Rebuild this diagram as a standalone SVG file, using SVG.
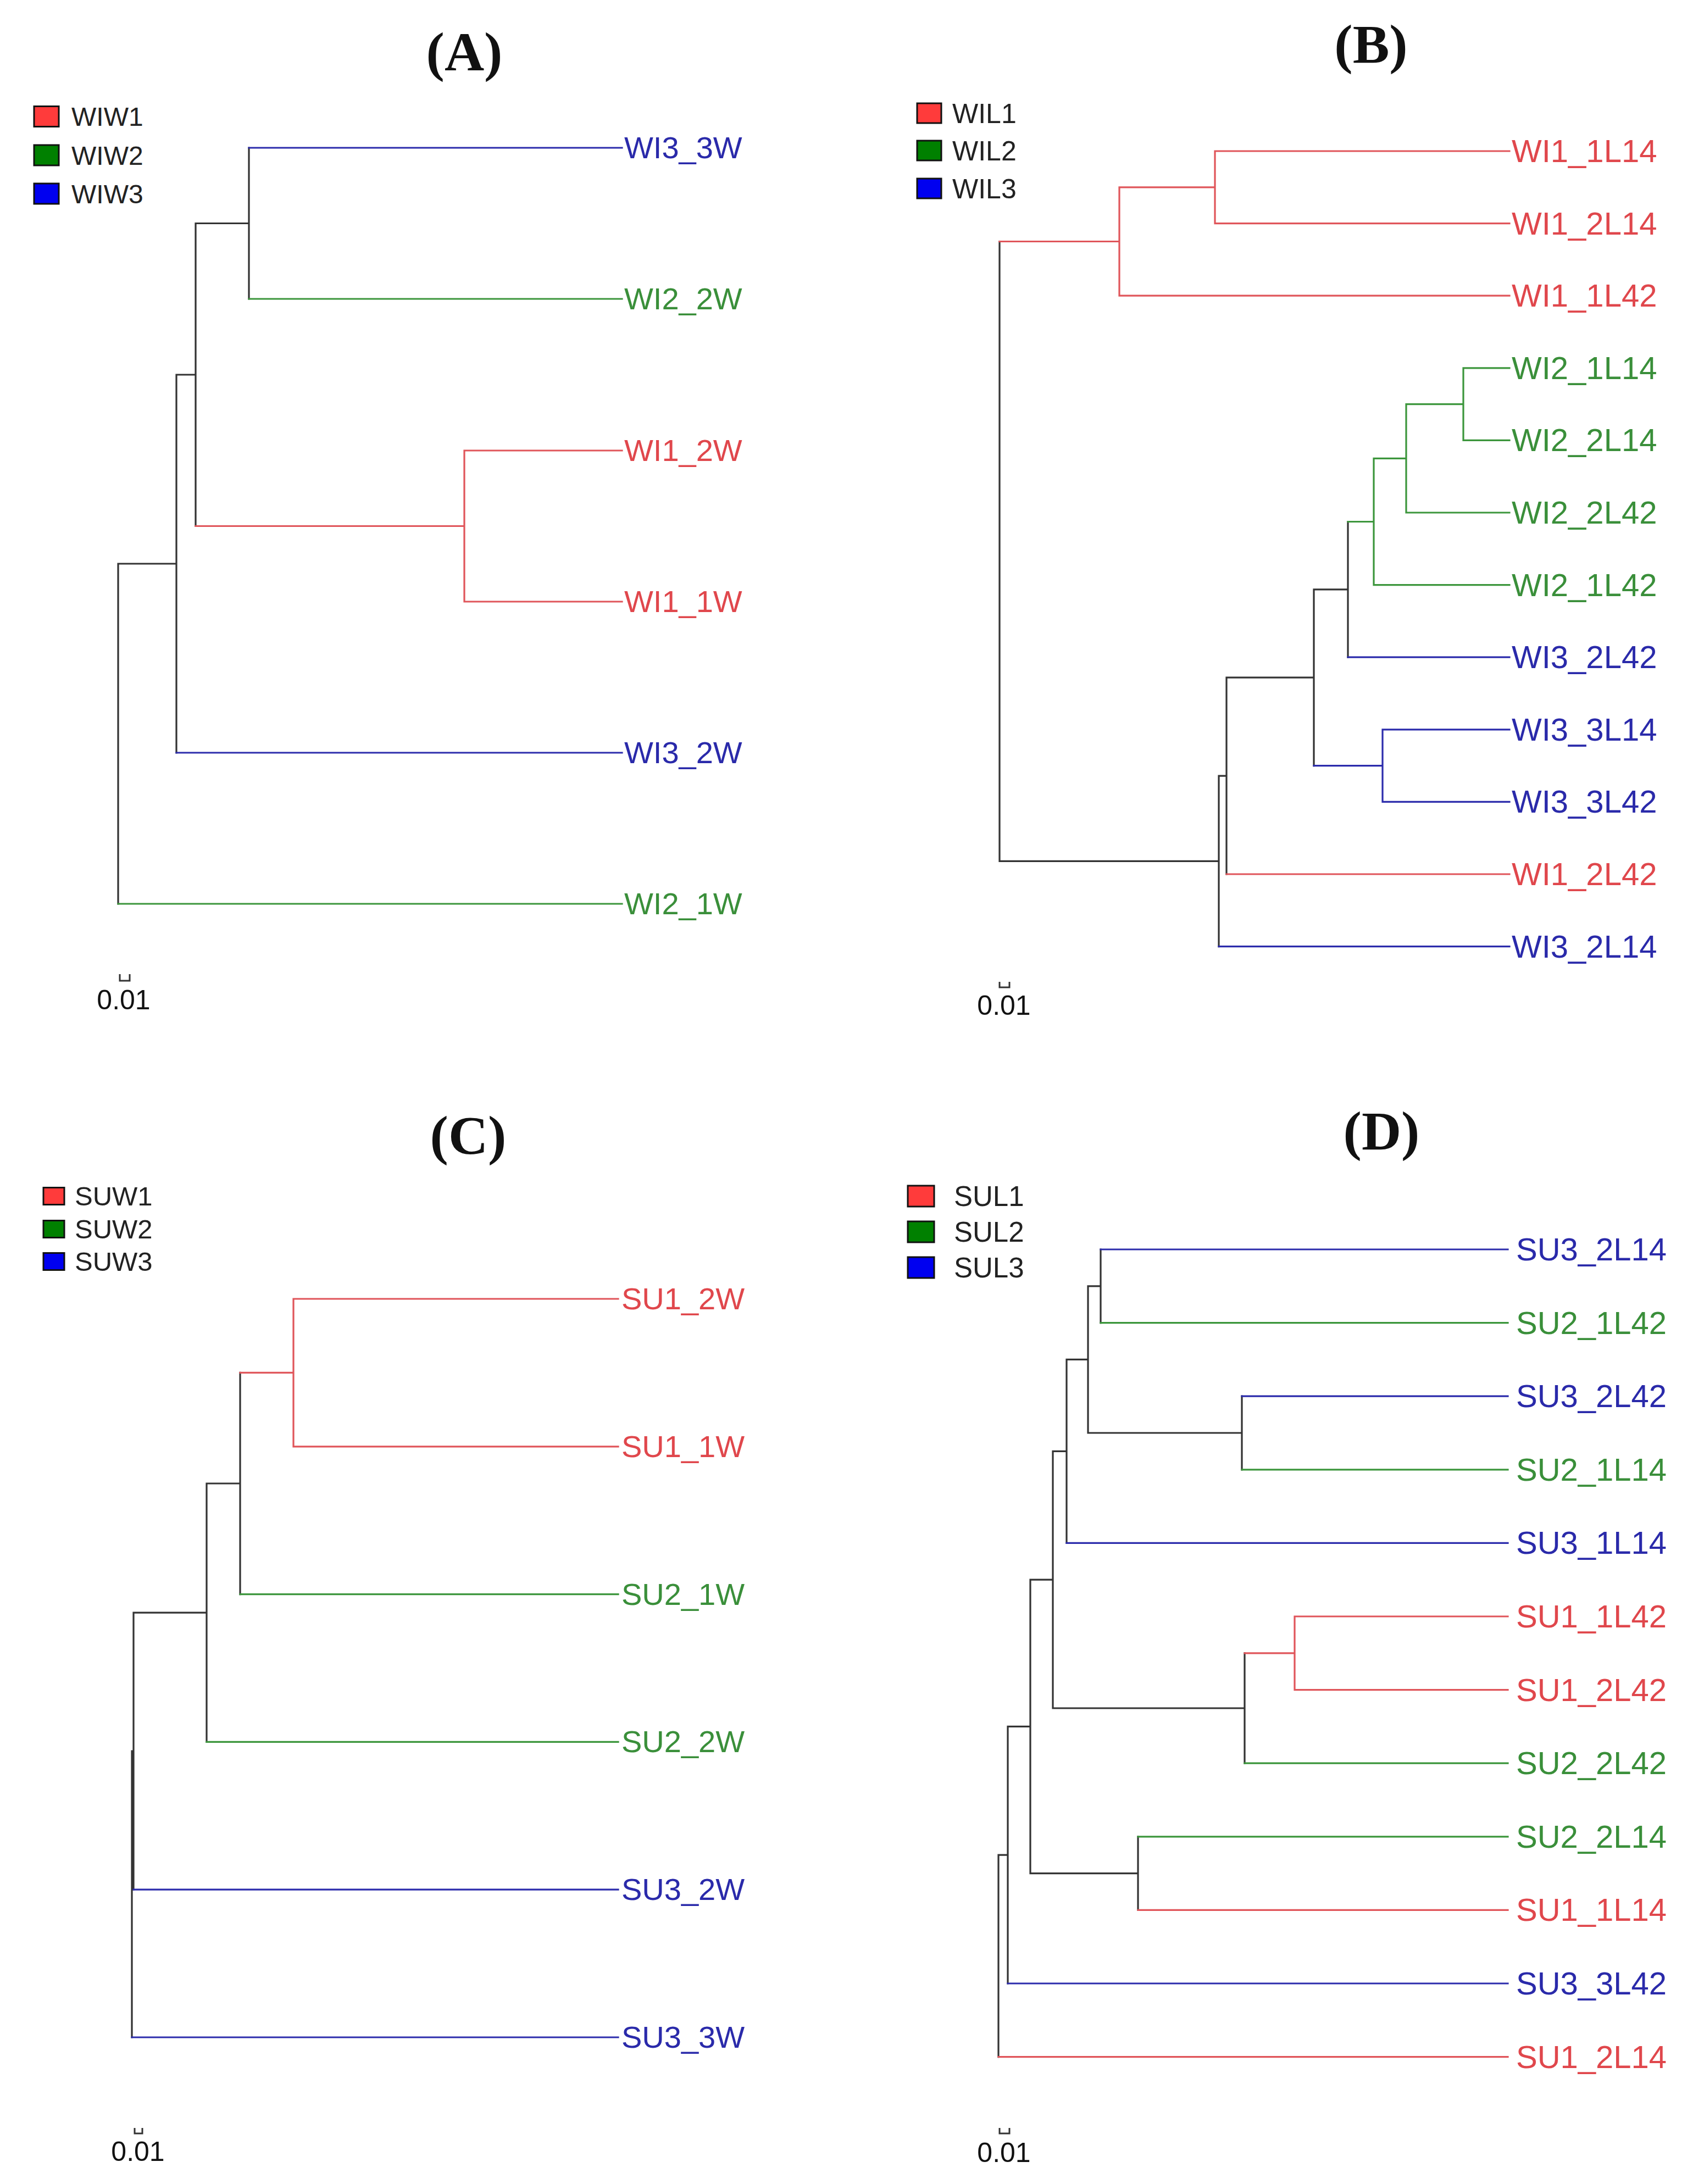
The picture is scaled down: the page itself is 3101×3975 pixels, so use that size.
<svg xmlns="http://www.w3.org/2000/svg" width="3101" height="3975" viewBox="0 0 3101 3975">
<style>
  .bg{fill:#ffffff}
  .e{fill:none;stroke-width:3.2;stroke-linecap:square}
  .k{stroke:#333333}
  .r{stroke:#e0555a}
  .g{stroke:#3c963c}
  .b{stroke:#2c2cac}
  .lbl{font-family:"Liberation Sans",Arial,sans-serif;font-size:56px}
  .lbl2{font-family:"Liberation Sans",Arial,sans-serif;font-size:58px}
  .tr{fill:#e0474c}
  .tg{fill:#3a8f3a}
  .tb{fill:#2a2aaa}
  .title{font-family:"Liberation Serif","Times New Roman",serif;font-size:100px;font-weight:bold;fill:#111;text-anchor:middle}
  .leg{font-family:"Liberation Sans",Arial,sans-serif;fill:#222}
  .sq{stroke:#111;stroke-width:3}
  .sqr{fill:#ff3b3b}
  .sqg{fill:#008000}
  .sqb{fill:#0000f0}
  .scale{font-family:"Liberation Sans",Arial,sans-serif;font-size:50px;fill:#111;text-anchor:middle}
  .bar{fill:none;stroke:#333;stroke-width:3}
</style>
<rect class="bg" x="0" y="0" width="3101" height="3975"/>

<!-- ================= Panel A ================= -->
<g id="panelA">
  <text class="title" x="845" y="128">(A)</text>
  <g id="legendA">
    <rect class="sq sqr" x="62" y="193.5" width="45" height="37"/>
    <text class="leg" x="130" y="229" font-size="48">WIW1</text>
    <rect class="sq sqg" x="62" y="264" width="45" height="37"/>
    <text class="leg" x="130" y="299.5" font-size="48">WIW2</text>
    <rect class="sq sqb" x="62" y="334" width="45" height="37"/>
    <text class="leg" x="130" y="369.5" font-size="48">WIW3</text>
  </g>
  <g id="edgesA">
    <path class="e k" d="M215,1026 V1645 M215,1026 H321 M321,682 V1370 M321,682 H356 M356,406.5 V957.5 M356,406.5 H453 M453,269 V544"/>
    <path class="e b" d="M453,269 H1132 M321,1370 H1132"/>
    <path class="e g" d="M453,544 H1132 M215,1645 H1132"/>
    <path class="e r" d="M356,957.5 H845 M845,820 V1095 M845,820 H1132 M845,1095 H1132"/>
  </g>
  <g id="A-WI3_3W"><text class="lbl tb" x="1136" y="288">WI3_3W</text></g>
  <g id="A-WI2_2W"><text class="lbl tg" x="1136" y="563">WI2_2W</text></g>
  <g id="A-WI1_2W"><text class="lbl tr" x="1136" y="839">WI1_2W</text></g>
  <g id="A-WI1_1W"><text class="lbl tr" x="1136" y="1114">WI1_1W</text></g>
  <g id="A-WI3_2W"><text class="lbl tb" x="1136" y="1389">WI3_2W</text></g>
  <g id="A-WI2_1W"><text class="lbl tg" x="1136" y="1664">WI2_1W</text></g>
  <g id="scaleA">
    <path class="bar" d="M218,1773 V1785 H236 V1773"/>
    <text class="scale" x="225" y="1837">0.01</text>
  </g>
</g>

<!-- ================= Panel B ================= -->
<g id="panelB">
  <text class="title" x="2495" y="114">(B)</text>
  <g id="legendB">
    <rect class="sq sqr" x="1669" y="188" width="44" height="36"/>
    <text class="leg" x="1733" y="224" font-size="50">WIL1</text>
    <rect class="sq sqg" x="1669" y="256" width="44" height="36"/>
    <text class="leg" x="1733" y="292" font-size="50">WIL2</text>
    <rect class="sq sqb" x="1669" y="325" width="44" height="36"/>
    <text class="leg" x="1733" y="361" font-size="50">WIL3</text>
  </g>
  <g id="edgesB">
    <path class="e k" d="M1819,439.5 V1567.4 M1819,1567.4 H2218 M2218,1412.1 V1722.6 M2218,1412.1 H2232 M2232,1233.2 V1591 M2232,1233.2 H2391 M2391,1072.8 V1393.6 M2391,1072.8 H2453 M2453,949.5 V1196.2"/>
    <path class="e r" d="M1819,439.5 H2037 M2037,340.8 V538.2 M2037,340.8 H2211 M2211,275 V406.6 M2211,275 H2747 M2211,406.6 H2747 M2037,538.2 H2747 M2232,1591 H2747"/>
    <path class="e g" d="M2453,949.5 H2500 M2500,834.3 V1064.6 M2500,834.3 H2559 M2559,735.6 V933 M2559,735.6 H2663 M2663,669.8 V801.4 M2663,669.8 H2747 M2663,801.4 H2747 M2559,933 H2747 M2500,1064.6 H2747"/>
    <path class="e b" d="M2453,1196.2 H2747 M2391,1393.6 H2516 M2516,1327.8 V1459.4 M2516,1327.8 H2747 M2516,1459.4 H2747 M2218,1722.6 H2747"/>
  </g>
  <g id="B-WI1_1L14"><text class="lbl2 tr" x="2751" y="295">WI1_1L14</text></g>
  <g id="B-WI1_2L14"><text class="lbl2 tr" x="2751" y="426.6">WI1_2L14</text></g>
  <g id="B-WI1_1L42"><text class="lbl2 tr" x="2751" y="558.2">WI1_1L42</text></g>
  <g id="B-WI2_1L14"><text class="lbl2 tg" x="2751" y="689.8">WI2_1L14</text></g>
  <g id="B-WI2_2L14"><text class="lbl2 tg" x="2751" y="821.4">WI2_2L14</text></g>
  <g id="B-WI2_2L42"><text class="lbl2 tg" x="2751" y="953">WI2_2L42</text></g>
  <g id="B-WI2_1L42"><text class="lbl2 tg" x="2751" y="1084.6">WI2_1L42</text></g>
  <g id="B-WI3_2L42"><text class="lbl2 tb" x="2751" y="1216.2">WI3_2L42</text></g>
  <g id="B-WI3_3L14"><text class="lbl2 tb" x="2751" y="1347.8">WI3_3L14</text></g>
  <g id="B-WI3_3L42"><text class="lbl2 tb" x="2751" y="1479.4">WI3_3L42</text></g>
  <g id="B-WI1_2L42"><text class="lbl2 tr" x="2751" y="1611">WI1_2L42</text></g>
  <g id="B-WI3_2L14"><text class="lbl2 tb" x="2751" y="1742.6">WI3_2L14</text></g>
  <g id="scaleB">
    <path class="bar" d="M1819,1787 V1797 H1837 V1787"/>
    <text class="scale" x="1827" y="1847">0.01</text>
  </g>
</g>

<!-- ================= Panel C ================= -->
<g id="panelC">
  <text class="title" x="852" y="2100">(C)</text>
  <g id="legendC">
    <rect class="sq sqr" x="79" y="2161.5" width="38" height="31"/>
    <text class="leg" x="136" y="2194" font-size="49">SUW1</text>
    <rect class="sq sqg" x="79" y="2221.5" width="38" height="31"/>
    <text class="leg" x="136" y="2254" font-size="49">SUW2</text>
    <rect class="sq sqb" x="79" y="2280.5" width="38" height="31"/>
    <text class="leg" x="136" y="2313" font-size="49">SUW3</text>
  </g>
  <g id="edgesC">
    <path class="e k" d="M240,3187.2 V3708 M240,3187.2 H243 M243,2935.2 V3439.2 M243,2935.2 H376 M376,2700 V3170.4 M376,2700 H437 M437,2498.4 V2901.6"/>
    <path class="e r" d="M437,2498.4 H534 M534,2364 V2632.8 M534,2364 H1125 M534,2632.8 H1125"/>
    <path class="e g" d="M437,2901.6 H1125 M376,3170.4 H1125"/>
    <path class="e b" d="M243,3439.2 H1125 M240,3708 H1125"/>
  </g>
  <g id="C-SU1_2W"><text class="lbl tr" x="1131" y="2383">SU1_2W</text></g>
  <g id="C-SU1_1W"><text class="lbl tr" x="1131" y="2651.8">SU1_1W</text></g>
  <g id="C-SU2_1W"><text class="lbl tg" x="1131" y="2920.6">SU2_1W</text></g>
  <g id="C-SU2_2W"><text class="lbl tg" x="1131" y="3189.4">SU2_2W</text></g>
  <g id="C-SU3_2W"><text class="lbl tb" x="1131" y="3458.2">SU3_2W</text></g>
  <g id="C-SU3_3W"><text class="lbl tb" x="1131" y="3727">SU3_3W</text></g>
  <g id="scaleC">
    <path class="bar" d="M245,3873 V3883 H259 V3873"/>
    <text class="scale" x="251" y="3933">0.01</text>
  </g>
</g>

<!-- ================= Panel D ================= -->
<g id="panelD">
  <text class="title" x="2514" y="2092">(D)</text>
  <g id="legendD">
    <rect class="sq sqr" x="1652" y="2158" width="48" height="38"/>
    <text class="leg" x="1736" y="2195" font-size="51">SUL1</text>
    <rect class="sq sqg" x="1652" y="2223" width="48" height="38"/>
    <text class="leg" x="1736" y="2260" font-size="51">SUL2</text>
    <rect class="sq sqb" x="1652" y="2288" width="48" height="38"/>
    <text class="leg" x="1736" y="2325" font-size="51">SUL3</text>
  </g>
  <g id="edgesD">
    <path class="e k" d="M1817,3376.2 V3743.6 M1817,3376.2 H1834 M1834,3142.4 V3610 M1834,3142.4 H1875 M1875,2875.2 V3409.6 M1875,2875.2 H1916 M1916,2641.4 V3109 M1916,2641.4 H1941 M1941,2474.4 V2808.4 M1941,2474.4 H1980 M1980,2340.8 V2608 M1980,2340.8 H2003 M2003,2274 V2407.6 M1980,2608 H2260 M2260,2541.2 V2674.8 M1916,3109 H2265 M2265,3008.8 V3209.2 M1875,3409.6 H2071 M2071,3342.8 V3476.4"/>
    <path class="e b" d="M2003,2274 H2744 M2260,2541.2 H2744 M1941,2808.4 H2744 M1834,3610 H2744"/>
    <path class="e g" d="M2003,2407.6 H2744 M2260,2674.8 H2744 M2265,3209.2 H2744 M2071,3342.8 H2744"/>
    <path class="e r" d="M2265,3008.8 H2356 M2356,2942 V3075.6 M2356,2942 H2744 M2356,3075.6 H2744 M2071,3476.4 H2744 M1817,3743.6 H2744"/>
  </g>
  <g id="D-SU3_2L14"><text class="lbl2 tb" x="2759" y="2294">SU3_2L14</text></g>
  <g id="D-SU2_1L42"><text class="lbl2 tg" x="2759" y="2427.6">SU2_1L42</text></g>
  <g id="D-SU3_2L42"><text class="lbl2 tb" x="2759" y="2561.2">SU3_2L42</text></g>
  <g id="D-SU2_1L14"><text class="lbl2 tg" x="2759" y="2694.8">SU2_1L14</text></g>
  <g id="D-SU3_1L14"><text class="lbl2 tb" x="2759" y="2828.4">SU3_1L14</text></g>
  <g id="D-SU1_1L42"><text class="lbl2 tr" x="2759" y="2962">SU1_1L42</text></g>
  <g id="D-SU1_2L42"><text class="lbl2 tr" x="2759" y="3095.6">SU1_2L42</text></g>
  <g id="D-SU2_2L42"><text class="lbl2 tg" x="2759" y="3229.2">SU2_2L42</text></g>
  <g id="D-SU2_2L14"><text class="lbl2 tg" x="2759" y="3362.8">SU2_2L14</text></g>
  <g id="D-SU1_1L14"><text class="lbl2 tr" x="2759" y="3496.4">SU1_1L14</text></g>
  <g id="D-SU3_3L42"><text class="lbl2 tb" x="2759" y="3630">SU3_3L42</text></g>
  <g id="D-SU1_2L14"><text class="lbl2 tr" x="2759" y="3763.6">SU1_2L14</text></g>
  <g id="scaleD">
    <path class="bar" d="M1819,3873 V3883 H1837 V3873"/>
    <text class="scale" x="1827" y="3935">0.01</text>
  </g>
</g>
</svg>
